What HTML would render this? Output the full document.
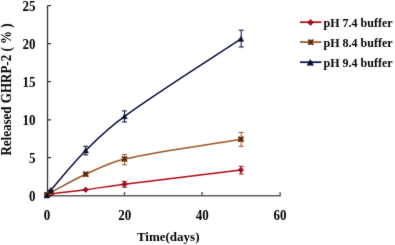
<!DOCTYPE html>
<html><head><meta charset="utf-8">
<style>
html,body{margin:0;padding:0;background:#fff;}
body{width:395px;height:245px;overflow:hidden;}
svg{display:block;}

text{font-family:"Liberation Serif",serif;font-weight:bold;stroke:none;}
</style></head><body><div id="w">
<svg width="395" height="245" viewBox="0 0 395 245">
<defs><filter id="bl" x="0" y="0" width="395" height="245" filterUnits="userSpaceOnUse" color-interpolation-filters="sRGB"><feConvolveMatrix order="3" kernelMatrix="1 2 1 2 28 2 1 2 1" divisor="40.0" edgeMode="duplicate"/></filter></defs><g filter="url(#bl)"><rect width="395" height="245" fill="#fff"/>
<g stroke="#303030" stroke-width="1.3" fill="none"><path d="M47.5 5.6V196.3"/><path d="M47.5 5.6H51M47.5 43.7H51M47.5 81.7H51M47.5 119.8H51M47.5 157.7H51"/></g>
<g stroke="#5a5a5a" stroke-width="1.4" fill="none"><path d="M46.7 195.7H280.8"/><path d="M124.5 195.7V192M202.1 195.7V192M280.1 195.7V192"/></g>
<g font-size="13" text-anchor="end" fill="#000">
<text x="35.6" y="10.2" transform="translate(0,5.6) scale(1,1.15) translate(0,-5.6)">25</text>
<text x="35.6" y="48.2" transform="translate(0,43.6) scale(1,1.15) translate(0,-43.6)">20</text>
<text x="35.6" y="86.2" transform="translate(0,81.6) scale(1,1.15) translate(0,-81.6)">15</text>
<text x="35.6" y="124.3" transform="translate(0,119.7) scale(1,1.15) translate(0,-119.7)">10</text>
<text x="35.6" y="162.3" transform="translate(0,157.7) scale(1,1.15) translate(0,-157.7)">5</text>
<text x="35.6" y="200.3" transform="translate(0,195.7) scale(1,1.15) translate(0,-195.7)">0</text>
</g><g font-size="13" text-anchor="middle" fill="#000">
<text x="47.1" y="219" transform="translate(0,214.5) scale(1,1.15) translate(0,-214.5)">0</text>
<text x="124.7" y="219" transform="translate(0,214.5) scale(1,1.15) translate(0,-214.5)">20</text>
<text x="202.3" y="219" transform="translate(0,214.5) scale(1,1.15) translate(0,-214.5)">40</text>
<text x="279.9" y="219" transform="translate(0,214.5) scale(1,1.15) translate(0,-214.5)">60</text>
</g>
<text x="168.2" y="241.2" font-size="13" text-anchor="middle">Time(days)</text>
<text transform="translate(11.4,89.5) rotate(-90) scale(1,1.1)" font-size="13" text-anchor="middle">Released GHRP-2 ( % )</text>
<g fill="none" stroke-width="1.5"><path stroke="#B00A14" d="M46.90 195.50 C48.19 194.99,49.41 194.18,50.78 193.98 C62.38 192.25,74.07 191.26,85.70 189.72 C98.65 188.02,111.54 185.90,124.50 184.25 C163.28 179.33,202.10 174.78,240.90 170.04"/><path stroke="#9C5424" d="M46.90 194.74 C48.19 193.98,49.45 193.16,50.78 192.46 C62.39 186.32,73.74 179.64,85.70 174.22 C98.35 168.48,110.95 162.07,124.50 159.02 C162.89 150.37,202.10 145.85,240.90 139.26"/><path stroke="#070D3C" d="M46.90 195.50 C48.19 193.73,49.35 191.84,50.78 190.18 C62.29 176.84,73.24 162.97,85.70 150.51 C97.87 138.34,110.53 126.50,124.50 116.46 C162.35 89.25,202.10 64.78,240.90 38.94"/></g>
<g fill="none"><path stroke="#B00A14" stroke-width="1" d="M124.5 181.3V187.2M122.0 181.3H127.0M122.0 187.2H127.0"/><path stroke="#B00A14" stroke-width="1" d="M241.20000000000002 166.3V174.0M238.70000000000002 166.3H243.70000000000002M238.70000000000002 174.0H243.70000000000002"/><path stroke="#9C5424" stroke-width="1" d="M124.5 154.5V164.8M122.0 154.5H127.0M122.0 164.8H127.0"/><path stroke="#9C5424" stroke-width="1" d="M241.20000000000002 132.4V146.3M238.70000000000002 132.4H243.70000000000002M238.70000000000002 146.3H243.70000000000002"/><path stroke="#070D3C" stroke-width="1" d="M85.69999999999999 146.3V154.9M83.19999999999999 146.3H88.19999999999999M83.19999999999999 154.9H88.19999999999999"/><path stroke="#070D3C" stroke-width="1" d="M124.5 110.9V122M122.0 110.9H127.0M122.0 122H127.0"/><path stroke="#070D3C" stroke-width="1" d="M241.20000000000002 30.2V47M238.70000000000002 30.2H243.70000000000002M238.70000000000002 47H243.70000000000002"/></g>
<g fill="#B00A14" stroke="#600008" stroke-width="0.6"><path d="M46.9 192.8L49.6 195.5L46.9 198.2L44.199999999999996 195.5Z"/><path d="M50.78 191.28L53.480000000000004 193.98L50.78 196.67999999999998L48.08 193.98Z"/><path d="M85.7 187.02L88.4 189.72L85.7 192.42L83.0 189.72Z"/><path d="M124.5 181.55L127.2 184.25L124.5 186.95L121.8 184.25Z"/><path d="M240.9 167.34L243.6 170.04L240.9 172.73999999999998L238.20000000000002 170.04Z"/></g>
<g><rect x="44.3" y="192.14000000000001" width="5.2" height="5.2" fill="#8A4A1C" stroke="none"/><path d="M44.3 192.14000000000001L49.5 197.34M49.5 192.14000000000001L44.3 197.34" stroke="#4A2006" stroke-width="1.1" fill="none"/><rect x="48.18" y="189.86" width="5.2" height="5.2" fill="#8A4A1C" stroke="none"/><path d="M48.18 189.86L53.38 195.06M53.38 189.86L48.18 195.06" stroke="#4A2006" stroke-width="1.1" fill="none"/><rect x="83.10000000000001" y="171.62" width="5.2" height="5.2" fill="#8A4A1C" stroke="none"/><path d="M83.10000000000001 171.62L88.3 176.82M88.3 171.62L83.10000000000001 176.82" stroke="#4A2006" stroke-width="1.1" fill="none"/><rect x="121.9" y="156.42000000000002" width="5.2" height="5.2" fill="#8A4A1C" stroke="none"/><path d="M121.9 156.42000000000002L127.1 161.62M127.1 156.42000000000002L121.9 161.62" stroke="#4A2006" stroke-width="1.1" fill="none"/><rect x="238.3" y="136.66" width="5.2" height="5.2" fill="#8A4A1C" stroke="none"/><path d="M238.3 136.66L243.5 141.85999999999999M243.5 136.66L238.3 141.85999999999999" stroke="#4A2006" stroke-width="1.1" fill="none"/></g>
<g fill="#070D3C" stroke="#080C30" stroke-width="0.5"><path d="M46.9 192.7L49.699999999999996 197.88H44.1Z"/><path d="M50.78 187.38L53.58 192.56H47.980000000000004Z"/><path d="M85.7 147.70999999999998L88.5 152.89H82.9Z"/><path d="M124.5 113.66L127.3 118.83999999999999H121.7Z"/><path d="M240.9 36.14L243.70000000000002 41.32H238.1Z"/></g>
<g stroke-width="1.7"><path stroke="#B00A14" d="M300 22.2H321.5"/><path stroke="#9C5424" d="M300 42.1H321.5"/><path stroke="#070D3C" d="M300 62.2H321.5"/></g>
<g fill="#B00A14" stroke="#600008" stroke-width="0.6"><path d="M310.5 19.4L313.5 22.4L310.5 25.4L307.5 22.4Z"/></g>
<rect x="308.09999999999997" y="39.6" width="5.2" height="5.2" fill="#8A4A1C" stroke="none"/><path d="M308.09999999999997 39.6L313.3 44.800000000000004M313.3 39.6L308.09999999999997 44.800000000000004" stroke="#4A2006" stroke-width="1.1" fill="none"/>
<g fill="#070D3C" stroke="#080C30" stroke-width="0.5"><path d="M310.3 59.4L313.5 65.32000000000001H307.1Z"/></g>
<g font-size="12" fill="#000"><text x="323.6" y="27.3">pH 7.4 buffer</text><text x="323.6" y="47.3">pH 8.4 buffer</text><text x="323.6" y="67.3">pH 9.4 buffer</text></g>
</g></svg></div>
</body></html>
